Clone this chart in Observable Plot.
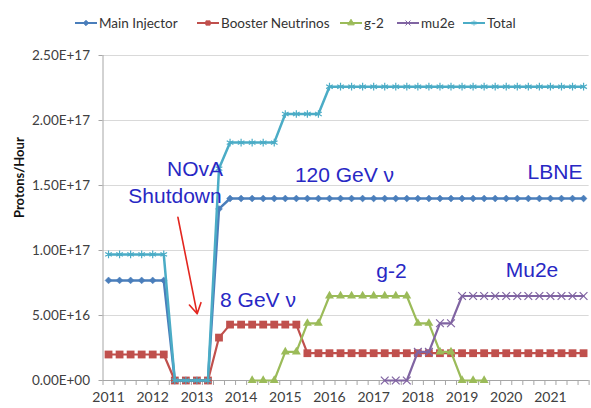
<!DOCTYPE html>
<html>
<head>
<meta charset="utf-8">
<script src="https://cdn.jsdelivr.net/npm/d3@7"></script>
<script src="https://cdn.jsdelivr.net/npm/@observablehq/plot@0.6"></script>
<style>
  body { margin: 0; background: #fff; }
  #wrap { width: 591px; height: 408px; position: relative; overflow: hidden; }
  #legend { position: relative; height: 35px; font-family: Lato, "Open Sans", sans-serif; font-size: 13.5px; color: #333; }
  .item { position: absolute; top: 14px; height: 17px; display: flex; align-items: center; white-space: nowrap; }
  .item svg { margin-right: 2px; }
</style>
</head>
<body>
<div id="wrap">
  <div id="legend"></div>
  <div id="chart"></div>
</div>
<script>
// ---- data ----
const quarters = [2011,2011.25,2011.5,2011.75,2012,2012.25,2012.5,2012.75,2013,2013.25,2013.5,2013.75,
  2014,2014.25,2014.5,2014.75,2015,2015.25,2015.5,2015.75,2016,2016.25,2016.5,2016.75,
  2017,2017.25,2017.5,2017.75,2018,2018.25,2018.5,2018.75,2019,2019.25,2019.5,2019.75,
  2020,2020.25,2020.5,2020.75,2021,2021.25,2021.5,2021.75];

const seriesNames = ["Main Injector", "Booster Neutrinos", "g-2", "mu2e", "Total"];

const mainInjector = [7.7e16,7.7e16,7.7e16,7.7e16,7.7e16,7.7e16, 0,0,0,0, 1.32e17,
  1.4e17,1.4e17,1.4e17,1.4e17,1.4e17,1.4e17,1.4e17,1.4e17,1.4e17,1.4e17,1.4e17,
  1.4e17,1.4e17,1.4e17,1.4e17,1.4e17,1.4e17,1.4e17,1.4e17,1.4e17,1.4e17,1.4e17,
  1.4e17,1.4e17,1.4e17,1.4e17,1.4e17,1.4e17,1.4e17,1.4e17,1.4e17,1.4e17,1.4e17];

const boosterNeutrinos = [2.0e16,2.0e16,2.0e16,2.0e16,2.0e16,2.0e16, 0,0,0,0, 3.3e16,
  4.3e16,4.3e16,4.3e16,4.3e16,4.3e16,4.3e16,4.3e16,
  2.1e16,2.1e16,2.1e16,2.1e16,2.1e16,2.1e16,2.1e16,2.1e16,2.1e16,2.1e16,2.1e16,2.1e16,2.1e16,
  2.1e16,2.1e16,2.1e16,2.1e16,2.1e16,2.1e16,2.1e16,2.1e16,2.1e16,2.1e16,2.1e16,2.1e16,2.1e16];

const g2 = [null,null,null,null,null,null,null,null,null,null,null,null,null,
  0,0,0, 2.2e16,2.2e16, 4.4e16,4.4e16,
  6.5e16,6.5e16,6.5e16,6.5e16,6.5e16,6.5e16,6.5e16,6.5e16,
  4.4e16,4.4e16, 2.2e16,2.2e16, 0,0,0,
  null,null,null,null,null,null,null,null,null];

const mu2e = [null,null,null,null,null,null,null,null,null,null,null,null,null,null,null,null,
  null,null,null,null,null,null,null,null,null,
  0,0,0, 2.2e16,2.2e16, 4.4e16,4.4e16,
  6.5e16,6.5e16,6.5e16,6.5e16,6.5e16,6.5e16,6.5e16,6.5e16,6.5e16,6.5e16,6.5e16,6.5e16];

const total = [9.7e16,9.7e16,9.7e16,9.7e16,9.7e16,9.7e16, 0,0,0,0, 1.63e17,
  1.83e17,1.83e17,1.83e17,1.83e17,1.83e17, 2.05e17,2.05e17,2.05e17,2.05e17,
  2.26e17,2.26e17,2.26e17,2.26e17,2.26e17,2.26e17,2.26e17,2.26e17,2.26e17,2.26e17,2.26e17,2.26e17,
  2.26e17,2.26e17,2.26e17,2.26e17,2.26e17,2.26e17,2.26e17,2.26e17,2.26e17,2.26e17,2.26e17,2.26e17];

const yearTicks = [2011,2012,2013,2014,2015,2016,2017,2018,2019,2020,2021];
const yearLabels = ["2011","2012","2013","2014","2015","2016","2017","2018","2019","2020","2021"];
const yTicks = [0, 5e16, 1e17, 1.5e17, 2e17, 2.5e17];
const yTickLabels = ["0.00E+00","5.00E+16","1.00E+17","1.50E+17","2.00E+17","2.50E+17"];
const yTitle = "Protons/Hour";

const annotations = [
  {text: "NOvA", x: 2012.957, y: 1.627e17},
  {text: "Shutdown", x: 2012.504, y: 1.415e17},
  {text: "120 GeV ν", x: 2016.34, y: 1.577e17},
  {text: "LBNE", x: 2021.104, y: 1.604e17},
  {text: "8 GeV ν", x: 2014.383, y: 6.15e16},
  {text: "g-2", x: 2017.404, y: 8.42e16},
  {text: "Mu2e", x: 2020.583, y: 8.5e16}
];
const arrowData = [{x1: 2012.57, y1: 1.256e17, x2: 2013.006, y2: 5.13e16}];

// ---- styles ----
const colors = {"Main Injector": "#4a7ebb", "Booster Neutrinos": "#c0504d", "g-2": "#9bbb59", "mu2e": "#8064a2", "Total": "#4bacc6"};
const valuesBySeries = {"Main Injector": mainInjector, "Booster Neutrinos": boosterNeutrinos, "g-2": g2, "mu2e": mu2e, "Total": total};

const rows = [];
for (const s of seriesNames) {
  valuesBySeries[s].forEach((v, i) => { if (v != null) rows.push({x: quarters[i], y: v, series: s}); });
}
const bySeries = s => rows.filter(r => r.series === s);

const xDomain = [2010.875, 2021.875];
const minorTicks = quarters.map(q => q - 0.125).concat([2021.875]);

const chart = Plot.plot({
  width: 591,
  height: 373,
  marginTop: 20,
  marginBottom: 28,
  marginLeft: 102.5,
  marginRight: 2.4,
  x: {domain: xDomain},
  y: {domain: [0, 2.5e17]},
  style: {fontFamily: "Lato, 'Open Sans', sans-serif", fontSize: "13.5px", color: "#404040", background: "transparent"},
  marks: [
    Plot.gridY(yTicks, {stroke: "#d9d9d9", strokeOpacity: 1}),
    Plot.ruleY([0], {stroke: "#a6a6a6"}),
    Plot.ruleX([xDomain[0]], {stroke: "#a6a6a6"}),
    Plot.axisY({ticks: yTicks, tickFormat: d => yTickLabels[yTicks.indexOf(d)], tickSize: 4, tickPadding: 9, stroke: "#a6a6a6", label: null}),
    Plot.axisX({ticks: minorTicks, tickFormat: () => "", tickSize: 5, stroke: "#a6a6a6", label: null}),
    Plot.axisX({ticks: yearTicks, tickFormat: d => yearLabels[yearTicks.indexOf(d)], tickSize: 0, tickPadding: 12, fontSize: 14, label: null}),
    Plot.text([yTitle], {frameAnchor: "left", rotate: -90, dx: -83, fontWeight: "bold", fontSize: 13, fill: "#111"}),
    // series
    Plot.line(bySeries("Main Injector"), {x: "x", y: "y", stroke: colors["Main Injector"], strokeWidth: 2.5}),
    Plot.dot(bySeries("Main Injector"), {x: "x", y: "y", symbol: "diamond2", r: 3.1, fill: colors["Main Injector"], stroke: colors["Main Injector"], strokeWidth: 0.5}),
    Plot.line(bySeries("Booster Neutrinos"), {x: "x", y: "y", stroke: colors["Booster Neutrinos"], strokeWidth: 2.2}),
    Plot.dot(bySeries("Booster Neutrinos"), {x: "x", y: "y", symbol: "square", r: 4.4, fill: colors["Booster Neutrinos"], stroke: "none"}),
    Plot.line(bySeries("g-2"), {x: "x", y: "y", stroke: colors["g-2"], strokeWidth: 2.2}),
    Plot.dot(bySeries("g-2"), {x: "x", y: "y", symbol: "triangle", r: 3.3, fill: colors["g-2"], stroke: "none"}),
    Plot.line(bySeries("mu2e"), {x: "x", y: "y", stroke: colors["mu2e"], strokeWidth: 2.2}),
    Plot.dot(bySeries("mu2e"), {x: "x", y: "y", symbol: "times", r: 3.6, fill: "none", stroke: colors["mu2e"], strokeWidth: 1.2}),
    Plot.line(bySeries("Total"), {x: "x", y: "y", stroke: colors["Total"], strokeWidth: 2.5}),
    Plot.dot(bySeries("Total"), {x: "x", y: "y", symbol: "asterisk", r: 3.6, fill: "none", stroke: colors["Total"], strokeWidth: 1.2}),
    // annotations
    Plot.text(annotations, {x: "x", y: "y", text: "text", fill: "#2828c4", fontSize: 21, fontFamily: "'Liberation Sans', Arial, sans-serif"}),
    Plot.arrow(arrowData, {x1: "x1", y1: "y1", x2: "x2", y2: "y2", stroke: "#e3261f", strokeWidth: 1.6, headLength: 11})
  ]
});
document.getElementById("chart").appendChild(chart);

// ---- legend ----
const legendLeft = {"Main Injector": 75, "Booster Neutrinos": 197, "g-2": 340, "mu2e": 397, "Total": 463};
const legendSymbols = {"Main Injector": "diamond2", "Booster Neutrinos": "square", "g-2": "triangle", "mu2e": "times", "Total": "asterisk"};
const legend = document.getElementById("legend");
for (const s of seriesNames) {
  const item = document.createElement("div");
  item.className = "item";
  item.style.left = legendLeft[s] + "px";
  const sym = d3.symbol(d3["symbol" + legendSymbols[s][0].toUpperCase() + legendSymbols[s].slice(1)], 18)();
  const filled = ["diamond2", "square", "triangle"].includes(legendSymbols[s]);
  item.innerHTML = `<svg width="22" height="12"><line x1="0" x2="22" y1="6" y2="6" stroke="${colors[s]}" stroke-width="2"/>` +
    `<path d="${sym}" transform="translate(11,6)" fill="${filled ? colors[s] : "none"}" stroke="${colors[s]}" stroke-width="1"/></svg><span>${s}</span>`;
  legend.appendChild(item);
}
</script>
</body>
</html>
